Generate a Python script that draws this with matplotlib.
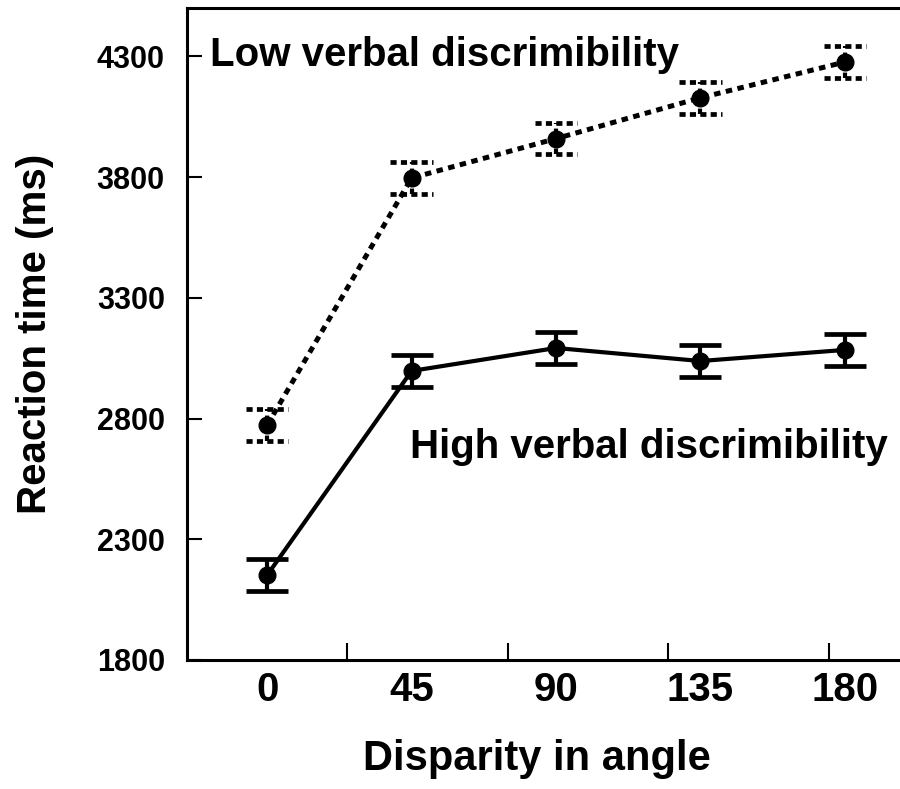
import matplotlib
matplotlib.use("Agg")
import matplotlib.pyplot as plt

plt.rcParams['font.family'] = ['Liberation Sans', 'DejaVu Sans']
plt.rcParams['font.weight'] = 'bold'

angles = [0, 45, 90, 135, 180]
low_rt = [2773, 3796, 3959, 4128, 4276]
low_err = [65, 65, 64, 65, 65]
high_rt = [2152, 2997, 3092, 3038, 3084]
high_err = [65, 65, 65, 65, 65]
ytick_vals = [1800, 2300, 2800, 3300, 3800, 4300]
minor_x = [25, 75, 125, 175]

fig = plt.figure(figsize=(9, 7.89), dpi=100)
ax = fig.add_axes([0.2078, 0.1635, 0.82, 0.8264])

# low verbal: dotted line, dotted error bars and caps
dots = (0, (1.3, 1.1))
line_low, caps_low, bars_low = ax.errorbar(angles, low_rt, yerr=low_err, color='black',
                                           lw=3.6, ls=dots, marker='o', ms=12, capsize=0,
                                           elinewidth=3)
for b in bars_low:
    b.set_linestyle(dots)
cap_half = 6.6
cap_style = [(0, (1.3, 0.9))]
ax.hlines([v + e for v, e in zip(low_rt, low_err)], [a - cap_half for a in angles],
          [a + cap_half for a in angles], colors='black', lw=3.4, linestyles=cap_style)
ax.hlines([v - e for v, e in zip(low_rt, low_err)], [a - cap_half for a in angles],
          [a + cap_half for a in angles], colors='black', lw=3.4, linestyles=cap_style)

# high verbal: solid
ax.errorbar(angles, high_rt, yerr=high_err, color='black', lw=3, marker='o', ms=12,
            capsize=15, capthick=3.4, elinewidth=3)

ax.set_xlim(-25, 205)
ax.set_ylim(1800, 4500)

ax.set_xticks(angles)
ax.set_xticklabels([str(a) for a in angles], fontsize=29, fontweight='bold')
ax.set_xticks(minor_x, minor=True)
ax.tick_params(axis='x', which='major', length=0, pad=8)
ax.tick_params(axis='x', which='minor', direction='in', length=12, width=1.5)
ax.set_yticks(ytick_vals)
ax.set_yticklabels([str(v) for v in ytick_vals], fontsize=22, fontweight='bold')
ax.tick_params(axis='y', direction='in', length=11, width=1.5, pad=16)

for s in ax.spines.values():
    s.set_linewidth(2.2)
ax.spines['right'].set_visible(False)

ax.set_xlabel('Disparity in angle', fontsize=30, fontweight='bold')
ax.xaxis.set_label_coords(0.474, -0.152)
ax.xaxis.label.set_va('center')
ax.set_ylabel('Reaction time (ms)', fontsize=29, fontweight='bold')
ax.yaxis.set_label_coords(-0.206, 0.5)
ax.yaxis.label.set_va('center')

ax.text(-17.8, 4305, 'Low verbal discrimibility', fontsize=29, fontweight='bold',
        ha='left', va='center')
ax.text(44.5, 2682, 'High verbal discrimibility', fontsize=29, fontweight='bold',
        ha='left', va='center')

fig.savefig('out.png', dpi=100)
